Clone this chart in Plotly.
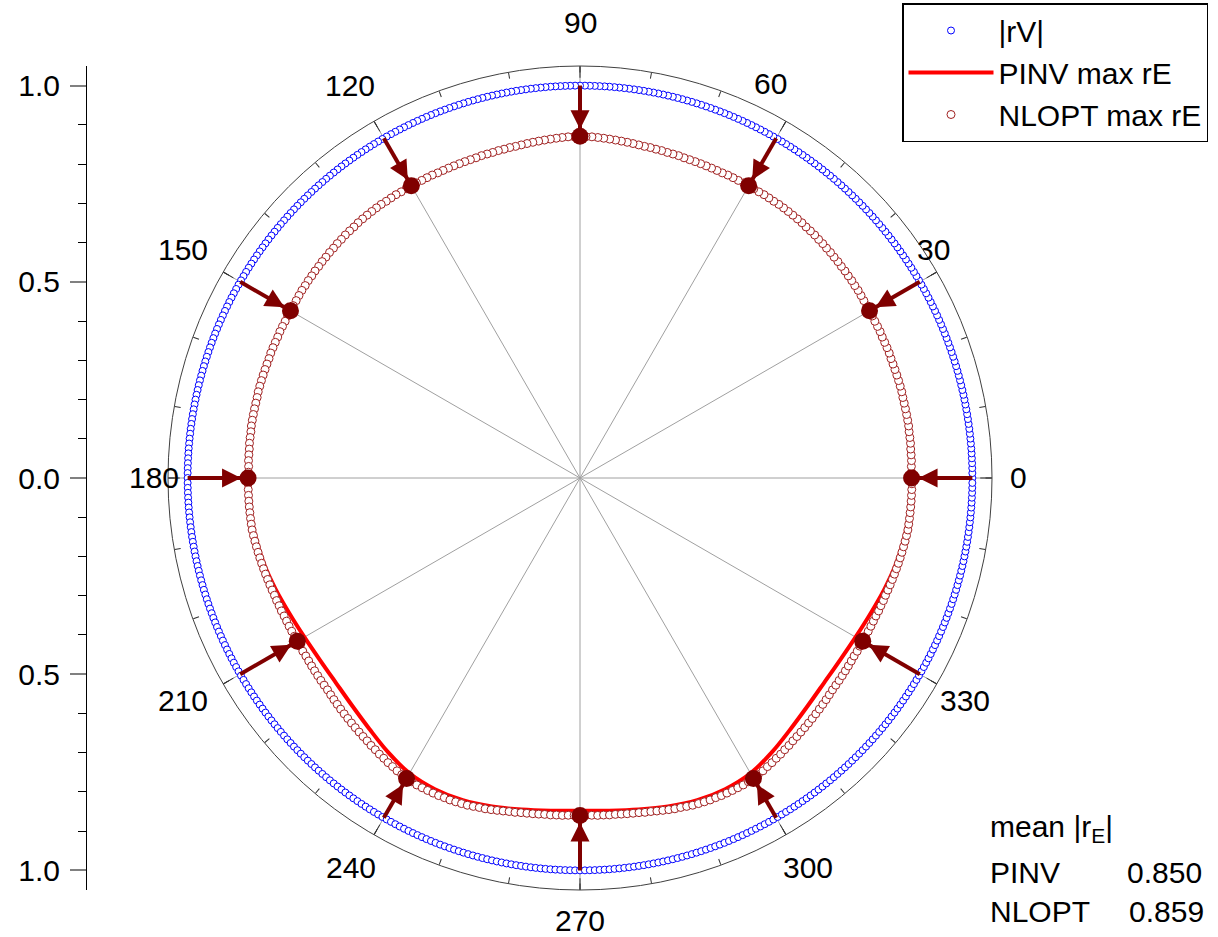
import plotly.graph_objects as go

# ---------------- data ----------------
# |rV| (velocity vector magnitude) - constant 1.0 around the circle
rv_theta = [i * 0.72 for i in range(500)]
rv_r = [1.0] * len(rv_theta)

# NLOPT max rE, one value per degree (0..359)
nlopt_theta = list(range(360))
nlopt_r = [
    .845, .845, .845, .846, .846, .846, .847, .847, .847, .848,
    .848, .848, .848, .848, .848, .849, .849, .849, .849, .849,
    .849, .849, .850, .850, .850, .850, .851, .851, .851, .852,
    .852, .853, .853, .854, .855, .855, .856, .856, .857, .857,
    .858, .858, .859, .859, .860, .860, .861, .861, .861, .862,
    .862, .862, .862, .862, .862, .861, .861, .861, .860, .860,
    .860, .860, .859, .859, .859, .858, .858, .858, .858, .858,
    .858, .858, .858, .859, .859, .859, .860, .860, .861, .861,
    .862, .863, .864, .865, .866, .867, .868, .869, .870, .870,
    .871, .870, .870, .869, .868, .867, .866, .865, .864, .863,
    .862, .861, .861, .860, .860, .859, .859, .859, .858, .858,
    .858, .858, .858, .858, .858, .858, .859, .859, .859, .860,
    .860, .860, .860, .861, .861, .861, .862, .862, .862, .862,
    .862, .862, .861, .861, .861, .860, .860, .859, .859, .858,
    .858, .857, .857, .856, .856, .855, .855, .854, .853, .853,
    .852, .852, .851, .851, .851, .850, .850, .850, .850, .849,
    .849, .849, .849, .849, .849, .849, .848, .848, .848, .848,
    .848, .848, .847, .847, .847, .846, .846, .846, .845, .845,
    .846, .846, .846, .846, .846, .846, .846, .846, .846, .846,
    .845, .844, .843, .842, .841, .840, .839, .838, .837, .836,
    .835, .834, .834, .833, .833, .832, .832, .832, .832, .832,
    .832, .832, .833, .833, .834, .835, .836, .837, .838, .839,
    .840, .842, .844, .846, .848, .850, .852, .854, .856, .858,
    .860, .862, .865, .867, .870, .872, .875, .877, .880, .882,
    .884, .885, .886, .886, .886, .886, .886, .885, .885, .884,
    .883, .882, .880, .878, .877, .875, .873, .871, .869, .868,
    .866, .865, .864, .863, .862, .862, .861, .861, .860, .860,
    .860, .860, .860, .861, .861, .862, .862, .863, .864, .865,
    .866, .868, .869, .871, .873, .875, .877, .878, .880, .882,
    .883, .884, .885, .885, .886, .886, .886, .886, .886, .885,
    .884, .882, .880, .877, .875, .872, .870, .867, .865, .862,
    .860, .858, .856, .854, .852, .850, .848, .846, .844, .842,
    .840, .839, .838, .837, .836, .835, .834, .833, .833, .832,
    .832, .832, .832, .832, .832, .832, .833, .833, .834, .834,
    .835, .836, .837, .838, .839, .840, .841, .842, .843, .844,
    .845, .846, .846, .846, .846, .846, .846, .846, .846, .846,
]

# PINV max rE, every 5 degrees (0..360)
pinv_theta = list(range(0, 365, 5))
pinv_r = [
    .844, .845, .847, .848, .848, .849, .851, .854, .857, .859,
    .861, .860, .859, .857, .857, .858, .861, .866, .870, .866,
    .861, .858, .857, .857, .859, .860, .861, .859, .857, .854,
    .851, .849, .848, .848, .847, .845, .845, .844, .841, .835,
    .826, .817, .811, .809, .812, .821, .835, .853, .869, .875,
    .874, .867, .858, .851, .848, .851, .858, .867, .874, .875,
    .869, .853, .835, .821, .812, .809, .811, .817, .826, .835,
    .841, .844, .844,
]

# loudspeaker directions and NLOPT rE at those directions
speaker_theta = [0, 30, 60, 90, 120, 150, 180, 210, 240, 270, 300, 330]
speaker_r = [.845, .852, .860, .871, .860, .852, .846, .832, .884, .860, .884, .832]
speaker_src = [1.0] * len(speaker_theta)

grid_angles = [0, 30, 60, 90, 120, 150, 180, 210, 240, 270, 300, 330]
angle_labels = ["0", "30", "60", "90", "120", "150",
                "180", "210", "240", "270", "300", "330"]

mean_title = "mean |r<sub>E</sub>|"
mean_names = ["PINV", "NLOPT"]
mean_values = ["0.850", "0.859"]

left_tickvals = [-1.0, -0.5, 0.0, 0.5, 1.0]
left_ticktext = ["1.0", "0.5", "0.0", "0.5", "1.0"]

# ---------------- style / layout constants ----------------
FONT = "Arial, Liberation Sans, sans-serif"
FS = 30
MAROON = "#800000"
RMAX = 1.05
W, H = 1218, 937
CX, CY, RPX = 580, 478, 412  # centre and outer radius in px

# pixel offsets (from the polar centre) of the angular labels' centres
label_offsets = {
    0: (438, 0), 30: (353, -228), 60: (191, -394), 90: (0, -456),
    120: (-230, -393), 150: (-397, -228), 180: (-426, 0), 210: (-397, 222),
    240: (-229, 389), 270: (0, 442), 300: (228, 389), 330: (385, 222),
}

fig = go.Figure()

# radial grid spokes
gr, gt = [], []
for a in grid_angles:
    gr += [0, RMAX, None]
    gt += [a, a, None]
fig.add_trace(go.Scatterpolar(r=gr, theta=gt, mode="lines",
                              line=dict(color="#a0a0a0", width=1),
                              showlegend=False, hoverinfo="skip"))
# longer major ticks at 30 deg
mr, mt = [], []
for a in grid_angles:
    mr += [RMAX - 0.03, RMAX, None]
    mt += [a, a, None]
fig.add_trace(go.Scatterpolar(r=mr, theta=mt, mode="lines",
                              line=dict(color="#303030", width=1),
                              showlegend=False, hoverinfo="skip"))

fig.add_trace(go.Scatterpolar(
    r=rv_r, theta=rv_theta, mode="markers", name="|rV|",
    marker=dict(symbol="circle", size=7, color="white",
                line=dict(color="blue", width=1))))

fig.add_trace(go.Scatterpolar(
    r=pinv_r, theta=pinv_theta, mode="lines", name="PINV max rE",
    line=dict(color="#ff0000", width=4, shape="spline")))

fig.add_trace(go.Scatterpolar(
    r=nlopt_r, theta=nlopt_theta, mode="markers", name="NLOPT max rE",
    marker=dict(symbol="circle", size=8, color="white",
                line=dict(color="#a02020", width=1))))

# arrows: shafts
sr, st = [], []
for t, r0, r1 in zip(speaker_theta, speaker_src, speaker_r):
    sr += [r0, r1, None]
    st += [t, t, None]
fig.add_trace(go.Scatterpolar(r=sr, theta=st, mode="lines",
                              line=dict(color=MAROON, width=4),
                              showlegend=False, hoverinfo="skip"))
# arrow heads (tip just at the edge of the dot)
head_off = 7.0 / (RPX / RMAX)
fig.add_trace(go.Scatterpolar(
    r=[r + head_off for r in speaker_r], theta=speaker_theta, mode="markers",
    marker=dict(symbol="arrow-up", size=19, color=MAROON,
                angle=[(-90 - t) % 360 for t in speaker_theta]),
    showlegend=False, hoverinfo="skip"))
# dots
fig.add_trace(go.Scatterpolar(
    r=speaker_r, theta=speaker_theta, mode="markers",
    marker=dict(symbol="circle", size=17, color=MAROON),
    showlegend=False, hoverinfo="skip"))

# dummy cartesian trace for the left scale
fig.add_trace(go.Scatter(x=[0.5], y=[0], mode="markers", marker=dict(opacity=0),
                         showlegend=False, hoverinfo="skip"))

dx0 = (CX - RPX) / W
dx1 = (CX + RPX) / W
dy0 = (H - (CY + RPX)) / H
dy1 = (H - (CY - RPX)) / H

fig.update_layout(
    width=W, height=H, autosize=False,
    margin=dict(l=0, r=0, t=0, b=0),
    paper_bgcolor="white", plot_bgcolor="white",
    font=dict(family=FONT, size=FS, color="black"),
    polar=dict(
        domain=dict(x=[dx0, dx1], y=[dy0, dy1]),
        bgcolor="white",
        radialaxis=dict(range=[0, RMAX], visible=False, showgrid=False),
        angularaxis=dict(
            rotation=0, direction="counterclockwise",
            tickmode="linear", tick0=0, dtick=10, showticklabels=False,
            ticks="inside", ticklen=6, tickcolor="#303030", tickwidth=1,
            showline=True, linecolor="#404040", linewidth=1,
            showgrid=False,
        ),
    ),
    xaxis=dict(domain=[87 / W, 88 / W], range=[0, 1], visible=False),
    yaxis=dict(
        domain=[dy0, dy1], range=[-RMAX, RMAX], anchor="x", side="left",
        showline=True, linecolor="black", linewidth=1,
        ticks="outside", ticklen=16, tickcolor="#808080", tickwidth=2,
        tickmode="array", tickvals=left_tickvals, ticktext=left_ticktext,
        minor=dict(dtick=0.1, ticks="outside", ticklen=8, tickcolor="black", tickwidth=1),
        showgrid=False, zeroline=False, ticklabelstandoff=4,
        tickfont=dict(family=FONT, size=FS, color="black"),
    ),
    legend=dict(
        x=902 / W, y=1 - 3 / H, xanchor="left", yanchor="top",
        bgcolor="white", bordercolor="black", borderwidth=1.5,
        font=dict(family=FONT, size=FS, color="black"),
        itemwidth=85, tracegroupgap=0,
    ),
    showlegend=True,
)

# angular labels
for a, txt in zip(grid_angles, angle_labels):
    ox, oy = label_offsets[a]
    fig.add_annotation(x=(CX + ox) / W, y=1 - (CY + oy) / H, xref="paper", yref="paper",
                       xanchor="center", yanchor="middle", text=txt, showarrow=False,
                       font=dict(family=FONT, size=FS, color="black"))

# mean |rE| text block
fig.add_annotation(x=988 / W, y=1 - 828 / H, xref="paper", yref="paper",
                   xanchor="left", yanchor="middle", text=mean_title,
                   showarrow=False, font=dict(family=FONT, size=FS, color="black"))
for i, (nm, val) in enumerate(zip(mean_names, mean_values)):
    yy = 1 - (872 + 39 * i) / H
    fig.add_annotation(x=988 / W, y=yy, xref="paper", yref="paper",
                       xanchor="left", yanchor="middle", text=nm,
                       showarrow=False, font=dict(family=FONT, size=FS, color="black"))
    fig.add_annotation(x=(1125 + 2 * i) / W, y=yy, xref="paper", yref="paper",
                       xanchor="left", yanchor="middle", text=val,
                       showarrow=False, font=dict(family=FONT, size=FS, color="black"))

fig.write_html("out.html", config={"displayModeBar": False},
               post_script="document.body.style.margin='0';")
